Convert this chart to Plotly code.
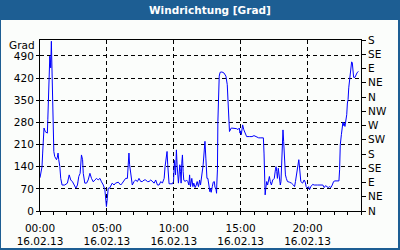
import plotly.graph_objects as go
import pandas as pd

date = "2013-02-16"

minutes = [
    0, 9, 12, 14, 18, 24, 33, 35, 38, 41, 44, 47, 48, 51, 53, 57, 62, 66, 74, 78, 81, 84, 89, 93, 99,
    111, 123, 131, 138, 146, 153, 161, 168, 174, 180, 186, 191, 194, 201, 209, 216, 224, 231, 239, 246,
    254, 261, 269, 276, 284, 291,
    294, 298, 302, 306, 312, 318, 324, 332, 339, 351, 362, 369, 377, 384, 392, 396, 399, 402, 407, 414,
    422, 429, 437, 444, 452, 459, 467, 474, 482, 489, 497, 504, 512, 519, 527, 534, 542, 549, 557, 561,
    567, 570, 573, 576, 579, 587, 594, 599,
    603, 608, 612, 615, 618, 621, 624, 627, 630, 633, 636, 639, 642, 645, 651, 657, 663, 668, 671, 675,
    681, 686, 690, 696, 701, 705, 711, 716, 720, 726, 732, 737, 740, 744, 749, 753, 758, 762, 765, 768,
    773, 777, 782, 785, 789, 792, 793, 796, 798, 801, 804, 808, 816, 825, 834, 840, 844, 847, 850, 858,
    865, 873, 882, 888, 894, 897, 900, 903, 906,
    909, 914, 921, 927, 939, 951, 960, 969, 981, 991, 1002, 1005, 1008, 1010, 1013, 1017, 1021, 1026,
    1029, 1033, 1038, 1044, 1051, 1056, 1059, 1062, 1065, 1069, 1074, 1078, 1081, 1084, 1089, 1090, 1093,
    1096, 1101, 1105, 1110, 1119, 1128, 1137, 1142, 1146, 1152, 1157, 1161, 1164, 1167,
    1170, 1178, 1185, 1190, 1194, 1200, 1205, 1209, 1215, 1223, 1230, 1245, 1260, 1269, 1275, 1281, 1287,
    1293, 1299, 1305, 1311, 1317, 1323, 1341, 1344, 1347, 1352, 1355, 1359, 1362, 1365, 1368, 1371, 1376,
    1379, 1382, 1385, 1388, 1391, 1394, 1398, 1401, 1404, 1407, 1413, 1418, 1422, 1428,
]

direction = [
    105, 140, 183, 235, 262, 250, 246, 288, 367, 420, 489, 470, 452, 536, 447, 293, 188, 172, 162, 170, 183, 162, 140, 103, 82,
    82, 88, 114, 98, 92, 82, 72, 82, 109, 119, 177, 162, 119, 88, 88, 98, 119, 103, 92, 98,
    103, 98, 103, 92, 82, 67,
    45, 14, 40, 72, 72, 82, 88, 82, 88, 91, 82, 88, 98, 103, 103, 146, 183, 146, 114, 82,
    93, 98, 93, 103, 93, 93, 98, 98, 93, 93, 98, 93, 88, 98, 82, 82, 93, 88, 103, 140,
    172, 188, 146, 114, 86, 86, 86, 93,
    160, 114, 193, 146, 114, 88, 114, 146, 125, 88, 151, 177, 125, 98, 93, 98, 93, 82, 114, 77,
    103, 77, 88, 74, 82, 93, 77, 98, 82, 114, 146, 193, 220, 167, 103, 103, 67, 61, 72, 59,
    77, 91, 93, 74, 72, 56, 82, 130, 283, 383, 426, 438, 439, 436, 426, 399, 352, 322, 251, 262,
    262, 260, 260, 257, 262, 246, 253, 241, 257,
    272, 257, 241, 235, 235, 235, 238, 235, 231, 231, 231, 183, 125, 51, 72, 93, 82, 103,
    109, 93, 82, 98, 103, 130, 140, 125, 103, 135, 103, 82, 93, 162, 222, 256, 220,
    162, 114, 103, 93, 91, 88, 82, 77, 93, 119, 140, 162, 140, 114,
    93, 88, 98, 91, 77, 72, 77, 67, 77, 84, 82, 82, 82, 82, 74, 80, 77,
    74, 77, 74, 82, 93, 95, 95, 130, 209, 241, 272, 281, 270, 277, 267, 283, 304,
    341, 352, 389, 410, 431, 452, 471, 468, 447, 422, 422, 431, 436, 441,
]

left_tickvals = [0, 70, 140, 210, 280, 350, 420, 490]
right_tickvals = [0, 45, 90, 135, 180, 225, 270, 315, 360, 405, 450, 495, 540]
right_ticktext = ["N", "NE", "E", "SE", "S", "SW", "W", "NW", "N", "NE", "E", "SE", "S"]
title_text = "Windrichtung [Grad]"
unit_text = "Grad"

times = pd.Timestamp(date) + pd.to_timedelta(minutes, unit="min")

W, H = 400, 250
L, R, T, B = 40, 39, 40, 39
pw, ph = W - L - R, H - T - B


def px(x):
    return (x - L) / pw


def py(y):
    return (H - B - y) / ph


BLUE = "#1d5e93"
BG = "#fbfdfb"
FONT = "DejaVu Sans"
tickfont = dict(family=FONT, size=10.5, color="black")

fig = go.Figure()
fig.add_trace(go.Scatter(x=times, y=direction, mode="lines",
                         line=dict(color="#0000ff", width=1), showlegend=False,
                         hoverinfo="skip"))
fig.add_trace(go.Scatter(x=[times[0]], y=[0], yaxis="y2", mode="markers",
                         marker=dict(opacity=0), showlegend=False, hoverinfo="skip"))

day0 = pd.Timestamp(date)
day1 = day0 + pd.Timedelta(hours=24)

fig.update_layout(
    width=W, height=H,
    margin=dict(l=L, r=R, t=T, b=B, pad=0, autoexpand=False),
    paper_bgcolor=BG, plot_bgcolor=BG,
    showlegend=False,
    xaxis=dict(
        type="date", range=[day0, day1], automargin=False,
        tick0=day0, dtick=5 * 3600 * 1000,
        tickformat="%H:%M<br>%d.%m.%y",
        ticks="outside", ticklen=3, tickcolor="black", tickwidth=1,
        ticklabelstandoff=4,
        showline=True, linecolor="black", linewidth=1, mirror=True,
        showgrid=True, gridcolor="black", gridwidth=1, griddash="4px,3px",
        zeroline=False, tickfont=tickfont,
        minor=dict(dtick=3600 * 1000, ticks="outside", ticklen=3,
                   tickcolor="black", showgrid=False),
    ),
    yaxis=dict(
        range=[0, 540], tickvals=left_tickvals, automargin=False,
        ticks="outside", ticklen=3, tickcolor="black",
        showline=True, linecolor="black", linewidth=1,
        showgrid=True, gridcolor="black", gridwidth=1, griddash="4px,3px",
        zeroline=False, tickfont=tickfont,
    ),
    yaxis2=dict(
        range=[0, 540], overlaying="y", side="right", automargin=False,
        tickvals=right_tickvals, ticktext=right_ticktext,
        ticks="outside", ticklen=4, tickcolor="black",
        showline=True, linecolor="black", linewidth=1,
        showgrid=False, zeroline=False, tickfont=tickfont,
    ),
    shapes=[
        dict(type="rect", xref="paper", yref="paper",
             x0=px(0), x1=px(400), y0=py(20), y1=py(0),
             fillcolor=BLUE, line=dict(width=0), layer="above"),
        dict(type="rect", xref="paper", yref="paper",
             x0=px(0), x1=px(399), y0=py(249), y1=py(0),
             line=dict(color=BLUE, width=2), fillcolor="rgba(0,0,0,0)", layer="above"),
    ],
    annotations=[
        dict(text="<b>" + title_text + "</b>", xref="paper", yref="paper",
             x=px(210), y=py(10.5), xanchor="center", yanchor="middle",
             showarrow=False, font=dict(family=FONT, size=10.5, color="white")),
        dict(text=unit_text, xref="paper", yref="paper",
             x=px(37), y=py(45), xanchor="right", yanchor="middle",
             showarrow=False, font=tickfont),
    ],
)

fig.write_html("out.html")
